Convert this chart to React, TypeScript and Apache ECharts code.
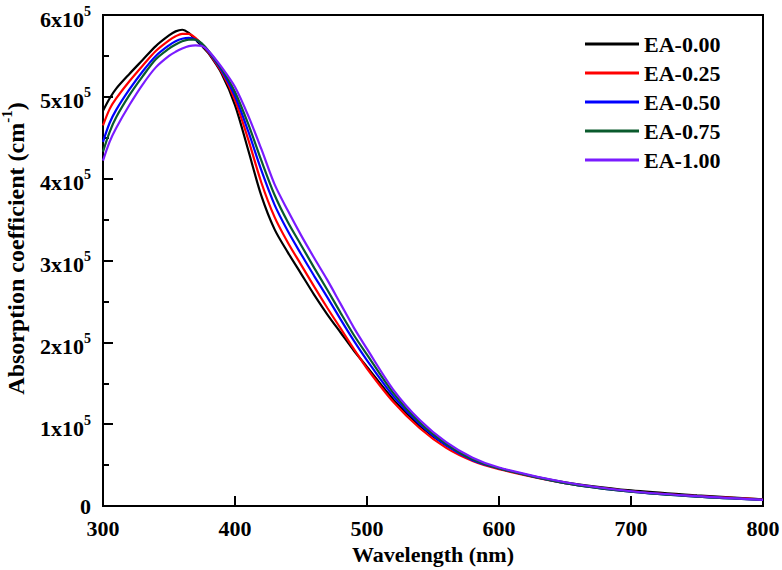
import * as echarts from 'echarts';
import React, { useEffect, useRef } from 'react';

// wavelength grid (nm) shared by all samples
const wavelengths = [
  300, 305, 310, 320, 330, 340, 350, 355, 360, 365, 370, 375, 380, 390, 400, 410, 420, 430, 440, 450,
  460, 470, 480, 490, 500, 520, 540, 560, 580, 600, 650, 700, 750, 800,
];

// absorption coefficient, in units of 10^5 cm^-1
const ea000 = [
  4.83, 4.98, 5.1, 5.28, 5.45, 5.62, 5.75, 5.8, 5.82, 5.78, 5.7, 5.62, 5.53, 5.28, 4.9, 4.35, 3.79, 3.38, 3.1, 2.84,
  2.58, 2.34, 2.12, 1.9, 1.7, 1.3, 0.98, 0.74, 0.57, 0.46, 0.29, 0.19, 0.13, 0.08,
];
const ea025 = [
  4.65, 4.85, 4.98, 5.19, 5.38, 5.56, 5.69, 5.74, 5.77, 5.77, 5.72, 5.64, 5.54, 5.3, 4.96, 4.48, 3.95, 3.53, 3.22, 2.95,
  2.68, 2.42, 2.17, 1.92, 1.68, 1.27, 0.95, 0.71, 0.55, 0.45, 0.28, 0.18, 0.12, 0.08,
];
const ea050 = [
  4.45, 4.68, 4.84, 5.09, 5.31, 5.5, 5.63, 5.68, 5.71, 5.72, 5.7, 5.64, 5.55, 5.32, 5.01, 4.58, 4.1, 3.68, 3.36, 3.08,
  2.81, 2.55, 2.28, 2.02, 1.78, 1.34, 1.0, 0.74, 0.56, 0.46, 0.28, 0.175, 0.115, 0.075,
];
const ea075 = [
  4.33, 4.57, 4.75, 5.02, 5.25, 5.46, 5.59, 5.64, 5.68, 5.7, 5.7, 5.65, 5.56, 5.34, 5.06, 4.67, 4.22, 3.8, 3.47, 3.19,
  2.91, 2.64, 2.36, 2.09, 1.85, 1.38, 1.02, 0.76, 0.57, 0.46, 0.28, 0.175, 0.115, 0.075,
];
const ea100 = [
  4.22, 4.45, 4.62, 4.9, 5.15, 5.36, 5.5, 5.55, 5.59, 5.62, 5.63, 5.62, 5.56, 5.36, 5.12, 4.77, 4.36, 3.93, 3.61, 3.31,
  3.03, 2.76, 2.47, 2.18, 1.92, 1.42, 1.05, 0.78, 0.59, 0.47, 0.29, 0.18, 0.12, 0.075,
];

const seriesNames = ['EA-0.00', 'EA-0.25', 'EA-0.50', 'EA-0.75', 'EA-1.00'];
const seriesValues = [ea000, ea025, ea050, ea075, ea100];
const seriesColors = ['#000000', '#ff0000', '#0000ff', '#0a5a2c', '#7a1cff'];

const FONT = "'Liberation Serif', 'Times New Roman', serif";

const tickRich = {
  z: { fontSize: 22, fontWeight: 'bold', fontFamily: FONT, color: '#000' },
  m: { fontSize: 22, fontWeight: 'bold', fontFamily: FONT, color: '#000', padding: [8, 0, 0, 0], lineHeight: 22 },
  s: { fontSize: 14, fontWeight: 'bold', fontFamily: FONT, color: '#000', verticalAlign: 'top', lineHeight: 14 },
};

const titleRich = {
  m: { fontSize: 24, fontWeight: 'bold', fontFamily: FONT, color: '#000', padding: [9, 0, 0, 0], lineHeight: 24 },
  s: { fontSize: 15, fontWeight: 'bold', fontFamily: FONT, color: '#000', verticalAlign: 'top', lineHeight: 15 },
};

export default function App(): React.ReactElement {
  const containerRef = useRef<HTMLDivElement>(null);

  useEffect(() => {
    document.body.style.margin = '0';
    if (!containerRef.current) {
      return;
    }
    const chart = echarts.init(containerRef.current, undefined, { renderer: 'svg' });

    chart.setOption({
      animation: false,
      backgroundColor: '#ffffff',
      grid: {
        left: 103,
        right: 19,
        top: 15,
        bottom: 64,
        outerBoundsMode: 'none',
        containLabel: false,
        show: true,
        borderColor: '#000',
        borderWidth: 2,
      },
      legend: {
        orient: 'vertical',
        left: 585,
        top: 33,
        padding: 0,
        itemWidth: 54,
        itemHeight: 3,
        itemGap: 7,
        icon: 'rect',
        data: seriesNames,
        textStyle: { fontSize: 22, fontWeight: 'bold', fontFamily: FONT, color: '#000' },
      },
      xAxis: {
        type: 'value',
        min: 300,
        max: 800,
        interval: 100,
        name: 'Wavelength (nm)',
        nameLocation: 'middle',
        nameGap: 36,
        nameTextStyle: { fontSize: 22, fontWeight: 'bold', fontFamily: FONT, color: '#000' },
        axisLine: { lineStyle: { color: '#000', width: 2 } },
        axisTick: { inside: true, length: 10, lineStyle: { color: '#000', width: 2 } },
        axisLabel: { margin: 11, fontSize: 22, fontWeight: 'bold', fontFamily: FONT, color: '#000' },
        splitLine: { show: false },
      },
      yAxis: {
        type: 'value',
        min: 0,
        max: 6,
        interval: 1,
        name: '{m|Absorption coefficient (cm}{s|-1}{m|)}',
        nameLocation: 'middle',
        nameGap: 80,
        nameRotate: 90,
        nameTextStyle: { rich: titleRich, padding: [0, 0, 0, 24] },
        axisLine: { lineStyle: { color: '#000', width: 2 } },
        axisTick: { inside: true, length: 10, lineStyle: { color: '#000', width: 2 } },
        minorTick: { show: true, splitNumber: 2, length: 6, lineStyle: { color: '#000', width: 2 } },
        axisLabel: {
          margin: 12,
          formatter: (v: number) => (v === 0 ? '{z|0}' : `{m|${v}x10}{s|5}`),
          rich: tickRich,
        },
        splitLine: { show: false },
      },
      series: seriesNames.map((name, i) => ({
        name,
        type: 'line',
        data: wavelengths.map((w, j) => [w, seriesValues[i][j]]),
        smooth: 0.3,
        showSymbol: false,
        color: seriesColors[i],
        lineStyle: { color: seriesColors[i], width: 2.2 },
      })),
    });

    return () => {
      chart.dispose();
    };
  }, []);

  return <div ref={containerRef} style={{ width: 782, height: 570 }} />;
}
